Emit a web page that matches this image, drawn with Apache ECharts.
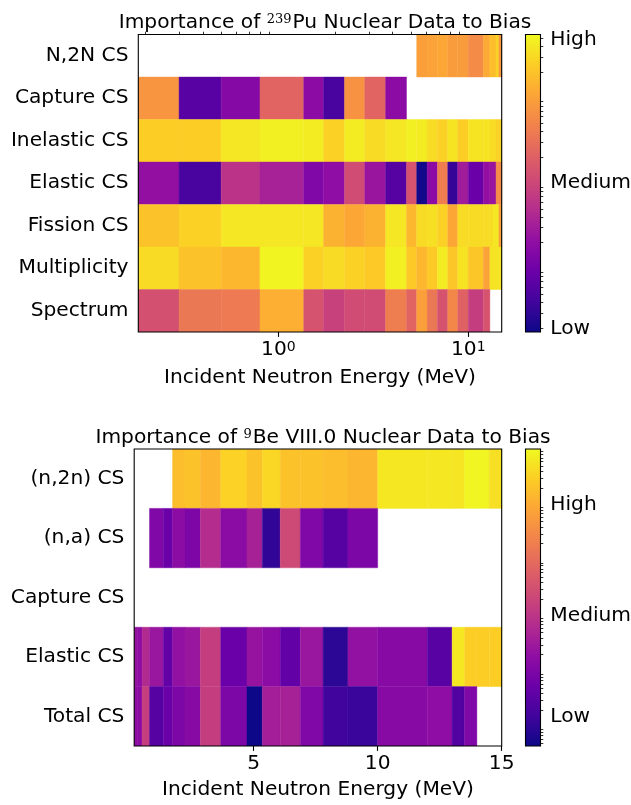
<!DOCTYPE html>
<html><head><meta charset="utf-8">
<script src="https://cdn.jsdelivr.net/npm/echarts@6.0.0/dist/echarts.min.js"></script>
<style>html,body{margin:0;padding:0;background:#fff}#c{width:631px;height:805px}</style>
</head><body><div id="c"></div>
<script>
// ---------------- data ----------------
// shared energy group boundaries (MeV)
const energyEdges = [0.183, 0.3, 0.5, 0.8, 1.36, 1.73, 2.23, 2.85, 3.67, 4.73, 5.35, 6.07, 6.88, 7.8, 8.8, 10, 12, 13, 13.5, 14, 14.5, 15];

// Pu-239 : log10 of importance (relative to "Medium"), one value per energy group, null = no data
const puRows = ['N,2N CS', 'Capture CS', 'Inelastic CS', 'Elastic CS', 'Fission CS', 'Multiplicity', 'Spectrum'];
const puN2N         = [null, null, null, null, null, null, null, null, null, null, 0.97, 1.01, 1.04, 0.94, 0.94, 0.77, 1.07, 1.25, 1.25, 1.42, 0.90];
const puCapture     = [0.87, -1.19, -0.80, 0.34, -0.74, -1.33, 0.84, 0.34, -0.74, null, null, null, null, null, null, null, null, null, null, null, null];
const puInelastic   = [1.39, 1.39, 1.60, 1.67, 1.64, 1.42, 1.64, 1.50, 1.60, 1.67, 1.64, 1.50, 1.42, 1.57, 1.39, 1.57, 1.57, 1.50, 1.50, 1.42, 1.42];
const puElastic     = [-0.67, -1.33, -0.24, -0.45, -0.84, -0.70, 0.06, -0.60, -1.22, 0.14, -1.71, -0.74, 0.62, -1.47, -0.52, -1.05, -0.67, -0.60, -0.60, 0.77, 0.77];
const puFission     = [1.29, 1.42, 1.60, 1.60, 1.60, 1.15, 1.04, 1.15, 1.60, 1.19, 1.50, 1.53, 1.42, 1.04, 1.50, 1.50, 1.50, 1.50, 1.60, 1.60, 0.97];
const puMultiplicity= [1.50, 1.29, 1.19, 1.70, 1.42, 1.50, 1.42, 1.35, 1.67, 1.35, 1.19, 1.35, 1.64, 1.32, 1.57, 1.32, 1.01, 1.57, 1.57, 1.57, 1.57];
const puSpectrum    = [0.11, 0.56, 0.59, 1.12, 0.14, -0.07, 0.06, 0.06, 0.62, 0.34, 0.97, 0.56, 0.14, 0.73, 0.31, -0.11, 0.14, null, null, null, null];
const puTable = [puN2N, puCapture, puInelastic, puElastic, puFission, puMultiplicity, puSpectrum];

// Be-9 : log10 of importance (relative to "Medium")
const beRows = ['(n,2n) CS', '(n,a) CS', 'Capture CS', 'Elastic CS', 'Total CS'];
const beN2N     = [null, null, null, null, null, 2.25, 2.31, 2.15, 2.52, 2.31, 2.58, 2.31, 2.31, 2.25, 2.15, 2.79, 2.79, 2.76, 2.95, 2.95, 2.68];
const beNA      = [null, null, null, -0.95, -1.27, -0.79, -1.01, -0.15, -0.79, -0.37, -1.97, 0.38, -0.95, -1.54, -1.01, null, null, null, null, null, null];
const beCapture = [null, null, null, null, null, null, null, null, null, null, null, null, null, null, null, null, null, null, null, null, null];
const beElastic = [-0.63, -0.74, -0.20, -0.58, -1.38, -0.69, -0.58, 0.17, -1.27, -0.63, -0.79, -1.38, -0.58, -2.02, -0.69, -0.85, -1.49, 2.79, 2.47, 2.47, 2.47];
const beTotal   = [-0.74, -0.79, 0.17, -1.54, -1.27, -1.01, -0.85, 0.17, -1.01, -2.34, -0.42, -0.37, -0.95, -1.81, -1.89, -0.85, -0.74, -1.59, -0.95, null, null];
const beTable = [beN2N, beNA, beCapture, beElastic, beTotal];

// colour-bar ranges (log10 units) and labelled ticks
const scaleLabels = ['Low', 'Medium', 'High'];
const puScale = { min: -1.746, max: 1.742, ticks: [-1.711, 0, 1.684] };
const beScale = { min: -2.342, max: 3.003, ticks: [-1.814, 0, 2.0] };

// axis tick values
const puMajorTicks = [1, 10];
const puMinorTicks = [0.2, 0.3, 0.4, 0.5, 0.6, 0.7, 0.8, 0.9, 2, 3, 4, 5, 6, 7, 8, 9];
const beMajorTicks = [5, 10, 15];

// ---------------- helpers ----------------
const F = 'DejaVu Sans';
const FS = 20.2;
const PLASMA = ['#0d0887', '#41049d', '#6a00a8', '#8f0da4', '#b12a90', '#cc4778', '#e16462', '#f2844b', '#fca636', '#fcce25', '#f0f921'];
function hex(c) { return [parseInt(c.slice(1, 3), 16), parseInt(c.slice(3, 5), 16), parseInt(c.slice(5, 7), 16)]; }
const PL = PLASMA.map(hex);
function plasma(t) {
  t = Math.max(0, Math.min(1, t));
  const s = t * (PL.length - 1), i = Math.min(PL.length - 2, Math.floor(s)), f = s - i;
  const c = PL[i].map((v, k) => Math.round(v + (PL[i + 1][k] - v) * f));
  return 'rgb(' + c.join(',') + ')';
}
function cells(table) {
  const out = [];
  table.forEach((row, r) => row.forEach((v, i) => {
    if (v !== null) out.push([energyEdges[i], energyEdges[i + 1], r, v]);
  }));
  return out;
}
function heatItem(scale) {
  return function (params, api) {
    const r = api.value(2);
    const p0 = api.coord([api.value(0), r]);
    const p1 = api.coord([api.value(1), r]);
    const h = api.size([0, 1])[1];
    const col = plasma((api.value(3) - scale.min) / (scale.max - scale.min));
    return { type: 'rect', shape: { x: p0[0], y: p0[1] - h / 2, width: p1[0] - p0[0], height: h },
      style: { fill: col, stroke: col, lineWidth: 0.4 } };
  };
}
function cbItem(scale) {
  return function (params, api) {
    const a = api.coord([0, scale.max]);
    const b = api.coord([1, scale.min]);
    return { type: 'rect', shape: { x: a[0], y: a[1], width: b[0] - a[0], height: b[1] - a[1] },
      style: { fill: new echarts.graphic.LinearGradient(0, 1, 0, 0,
        PLASMA.map((c, i) => ({ offset: i / (PLASMA.length - 1), color: c }))) } };
  };
}
function frameItem(params) {
  const cs = params.coordSys;
  return { type: 'rect', shape: { x: cs.x, y: cs.y, width: cs.width, height: cs.height },
    style: { fill: null, stroke: '#000', lineWidth: 1.1 } };
}
function minorLog(min, max) {
  const out = [];
  for (let n = Math.floor(min) - 1; n <= Math.ceil(max); n++)
    for (let k = 2; k <= 9; k++) { const v = n + Math.log10(k); if (v > min && v < max) out.push(v); }
  return out;
}
function nearestLabel(scale, v) {
  let best = 0;
  scale.ticks.forEach((t, i) => { if (Math.abs(t - v) < Math.abs(scale.ticks[best] - v)) best = i; });
  return scaleLabels[best];
}
const tickStyle = { color: '#000', width: 1.1 };
const labelStyle = { fontSize: FS, color: '#000', fontFamily: F, fontWeight: 'normal' };
const titleRich = { a: { fontSize: FS, fontFamily: F, color: '#000', fontWeight: 'normal' },
  s: { fontSize: 13, fontFamily: 'DejaVu Serif', color: '#000', fontWeight: 'normal', verticalAlign: 'top', padding: [0, 1, 0, 0] } };

// ---------------- chart ----------------
const chart = echarts.init(document.getElementById('c'), null, { renderer: 'canvas' });
const option = {
  animation: false,
  backgroundColor: '#fff',
  title: [
    { text: '{a|Importance of }{s|239}{a|Pu Nuclear Data to Bias}', left: 320, top: 8, textAlign: 'center',
      textStyle: { fontWeight: 'normal', rich: titleRich } },
    { text: '{a|Importance of }{s|9}{a|Be VIII.0 Nuclear Data to Bias}', left: 318, top: 423, textAlign: 'center',
      textStyle: { fontWeight: 'normal', rich: titleRich } }
  ],
  grid: [
    { left: 138.3, top: 34.5, width: 363.4, height: 297.5, outerBoundsMode: 'none' },
    { left: 134.2, top: 449, width: 367.5, height: 297, outerBoundsMode: 'none' },
    { left: 525.5, top: 34.5, width: 15, height: 297.5, outerBoundsMode: 'none' },
    { left: 525.5, top: 449, width: 15, height: 297, outerBoundsMode: 'none' }
  ],
  xAxis: [
    { gridIndex: 0, type: 'log', logBase: 10, min: energyEdges[0], max: energyEdges[energyEdges.length - 1],
      axisLine: { show: false }, splitLine: { show: false },
      axisTick: { show: true, length: 4.9, lineStyle: tickStyle, customValues: puMajorTicks },
      axisLabel: { customValues: puMajorTicks, margin: 8, color: '#000',
        formatter: v => '{b|10}{s|' + Math.round(Math.log10(v)) + '}',
        rich: { b: { fontSize: FS, fontFamily: F, color: '#000' }, s: { fontSize: 14, fontFamily: F, color: '#000', verticalAlign: 'top' } } },
      name: 'Incident Neutron Energy (MeV)', nameLocation: 'middle', nameGap: 36,
      nameTextStyle: labelStyle },
    { gridIndex: 0, type: 'log', logBase: 10, min: energyEdges[0], max: energyEdges[energyEdges.length - 1],
      axisLine: { show: false }, splitLine: { show: false }, axisLabel: { show: false },
      axisTick: { show: true, length: 2.8, lineStyle: { color: '#000', width: 0.8 }, customValues: puMinorTicks } },
    { gridIndex: 1, type: 'value', min: energyEdges[0], max: energyEdges[energyEdges.length - 1],
      axisLine: { show: false }, splitLine: { show: false },
      axisTick: { show: true, length: 4.9, lineStyle: tickStyle, customValues: beMajorTicks },
      axisLabel: Object.assign({ customValues: beMajorTicks, margin: 8 }, labelStyle),
      name: 'Incident Neutron Energy (MeV)', nameLocation: 'middle', nameGap: 34,
      nameTextStyle: labelStyle },
    { gridIndex: 2, type: 'value', min: 0, max: 1, show: false },
    { gridIndex: 3, type: 'value', min: 0, max: 1, show: false }
  ],
  yAxis: [
    { gridIndex: 0, type: 'category', data: puRows, inverse: true,
      axisLine: { show: false }, splitLine: { show: false },
      axisTick: { alignWithLabel: true, length: 4.9, lineStyle: tickStyle },
      axisLabel: Object.assign({ margin: 9.8 }, labelStyle) },
    { gridIndex: 1, type: 'category', data: beRows, inverse: true,
      axisLine: { show: false }, splitLine: { show: false },
      axisTick: { alignWithLabel: true, length: 4.9, lineStyle: tickStyle },
      axisLabel: Object.assign({ margin: 9.8 }, labelStyle) },
    { gridIndex: 2, type: 'value', position: 'right', min: puScale.min, max: puScale.max,
      axisLine: { show: false }, splitLine: { show: false },
      axisTick: { show: true, length: 4.9, lineStyle: tickStyle, customValues: puScale.ticks },
      axisLabel: Object.assign({ customValues: puScale.ticks, margin: 9.8, formatter: v => nearestLabel(puScale, v) }, labelStyle) },
    { gridIndex: 2, type: 'value', position: 'right', min: puScale.min, max: puScale.max,
      axisLine: { show: false }, splitLine: { show: false }, axisLabel: { show: false },
      axisTick: { show: true, length: 2.8, lineStyle: { color: '#000', width: 0.8 }, customValues: minorLog(puScale.min, puScale.max) } },
    { gridIndex: 3, type: 'value', position: 'right', min: beScale.min, max: beScale.max,
      axisLine: { show: false }, splitLine: { show: false },
      axisTick: { show: true, length: 4.9, lineStyle: tickStyle, customValues: beScale.ticks },
      axisLabel: Object.assign({ customValues: beScale.ticks, margin: 9.8, formatter: v => nearestLabel(beScale, v) }, labelStyle) },
    { gridIndex: 3, type: 'value', position: 'right', min: beScale.min, max: beScale.max,
      axisLine: { show: false }, splitLine: { show: false }, axisLabel: { show: false },
      axisTick: { show: true, length: 2.8, lineStyle: { color: '#000', width: 0.8 }, customValues: minorLog(beScale.min, beScale.max) } }
  ],
  series: [
    { type: 'custom', name: 'Pu-239', xAxisIndex: 0, yAxisIndex: 0, data: cells(puTable), encode: { x: [0, 1], y: 2 },
      renderItem: heatItem(puScale), silent: true, clip: true },
    { type: 'custom', name: 'Be-9', xAxisIndex: 2, yAxisIndex: 1, data: cells(beTable), encode: { x: [0, 1], y: 2 },
      renderItem: heatItem(beScale), silent: true, clip: true },
    { type: 'custom', xAxisIndex: 3, yAxisIndex: 2, data: [[0.5, 0]], renderItem: cbItem(puScale), silent: true },
    { type: 'custom', xAxisIndex: 4, yAxisIndex: 4, data: [[0.5, 0]], renderItem: cbItem(beScale), silent: true },
    { type: 'custom', xAxisIndex: 0, yAxisIndex: 0, data: [[1, 0]], renderItem: frameItem, silent: true, z: 10 },
    { type: 'custom', xAxisIndex: 2, yAxisIndex: 1, data: [[1, 0]], renderItem: frameItem, silent: true, z: 10 },
    { type: 'custom', xAxisIndex: 3, yAxisIndex: 2, data: [[0.5, 0]], renderItem: frameItem, silent: true, z: 10 },
    { type: 'custom', xAxisIndex: 4, yAxisIndex: 4, data: [[0.5, 0]], renderItem: frameItem, silent: true, z: 10 }
  ]
};
chart.setOption(option);
</script></body></html>
